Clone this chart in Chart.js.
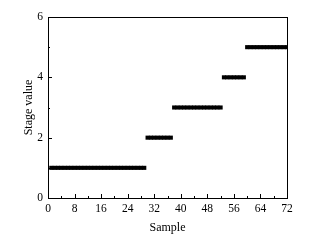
<!DOCTYPE html>
<html>
<head>
<meta charset="utf-8">
<script src="https://cdn.jsdelivr.net/npm/chart.js@4"></script>
<style>
  html, body { margin: 0; padding: 0; background: #fff; }
  #wrap { width: 324px; height: 244px; }
</style>
</head>
<body>
<div id="wrap"><canvas id="stageChart" width="324" height="244"></canvas></div>
<script>
// Dados
const samples = [1, 2, 3, 4, 5, 6, 7, 8, 9, 10, 11, 12, 13, 14, 15, 16, 17, 18, 19, 20,
    21, 22, 23, 24, 25, 26, 27, 28, 29, 30, 31, 32, 33, 34, 35, 36, 37, 38, 39, 40,
    41, 42, 43, 44, 45, 46, 47, 48, 49, 50, 51, 52, 53, 54, 55, 56, 57, 58, 59, 60,
    61, 62, 63, 64, 65, 66, 67, 68, 69, 70, 71, 72];
const stageValues = [1, 1, 1, 1, 1, 1, 1, 1, 1, 1, 1, 1, 1, 1, 1, 1, 1, 1, 1, 1,
    1, 1, 1, 1, 1, 1, 1, 1, 1, 2, 2, 2, 2, 2, 2, 2, 2, 3, 3, 3,
    3, 3, 3, 3, 3, 3, 3, 3, 3, 3, 3, 3, 4, 4, 4, 4, 4, 4, 4, 5,
    5, 5, 5, 5, 5, 5, 5, 5, 5, 5, 5, 5];
const xTicks = [0, 8, 16, 24, 32, 40, 48, 56, 64, 72];
const xMinorTicks = [4, 12, 20, 28, 36, 44, 52, 60, 68];
const yTicks = [0, 2, 4, 6];
const yMinorTicks = [1, 3, 5];

const points = samples.map((s, i) => ({ x: s, y: stageValues[i] }));

// Moldura e marcas internas
const framePlugin = {
    id: 'frame',
    afterDraw(chart) {
        const { ctx, chartArea: a, scales: { x, y } } = chart;
        ctx.save();
        ctx.strokeStyle = '#000';
        ctx.lineWidth = 1;
        ctx.strokeRect(a.left + 0.5, a.top + 0.5, a.right - a.left, a.bottom - a.top);
        ctx.beginPath();
        xTicks.forEach(v => {
            const px = Math.round(x.getPixelForValue(v)) + 0.5;
            ctx.moveTo(px, a.bottom); ctx.lineTo(px, a.bottom - 4);
        });
        xMinorTicks.forEach(v => {
            const px = Math.round(x.getPixelForValue(v)) + 0.5;
            ctx.moveTo(px, a.bottom); ctx.lineTo(px, a.bottom - 2);
        });
        yTicks.forEach(v => {
            const py = Math.round(y.getPixelForValue(v)) + 0.5;
            ctx.moveTo(a.left, py); ctx.lineTo(a.left + 4, py);
        });
        yMinorTicks.forEach(v => {
            const py = Math.round(y.getPixelForValue(v)) + 0.5;
            ctx.moveTo(a.left, py); ctx.lineTo(a.left + 2, py);
        });
        ctx.stroke();
        ctx.restore();
    }
};

const serif = 'Liberation Serif, Times New Roman, serif';

const stageChart = new Chart(document.getElementById('stageChart').getContext('2d'), {
    type: 'scatter',
    data: {
        datasets: [{
            label: 'Stage value',
            data: points,
            backgroundColor: '#000',
            borderColor: '#000',
            borderWidth: 0,
            pointStyle: 'rect',
            pointRadius: 2.9,
            clip: 0
        }]
    },
    options: {
        responsive: false,
        animation: false,
        layout: { padding: { top: 17, right: 37, left: 0, bottom: 0 } },
        plugins: { legend: { display: false }, tooltip: { enabled: false } },
        scales: {
            x: {
                type: 'linear',
                min: 0,
                max: 72,
                afterFit: s => { s.height = 46; },
                afterBuildTicks: s => { s.ticks = xTicks.map(v => ({ value: v })); },
                grid: { display: false, drawTicks: false },
                border: { display: false },
                ticks: { padding: 4, color: '#000', font: { family: serif, size: 11.5 }, maxRotation: 0 },
                title: { display: true, text: 'Sample', color: '#000', font: { family: serif, size: 12 }, padding: { top: 0, bottom: 9 } }
            },
            y: {
                type: 'linear',
                min: 0,
                max: 6,
                afterFit: s => { s.width = 48; },
                afterBuildTicks: s => { s.ticks = yTicks.map(v => ({ value: v })); },
                grid: { display: false, drawTicks: false },
                border: { display: false },
                ticks: { padding: 5, color: '#000', font: { family: serif, size: 11.5 } },
                title: { display: true, text: 'Stage value', color: '#000', font: { family: serif, size: 12 }, padding: { top: 22, bottom: 0 } }
            }
        }
    },
    plugins: [framePlugin]
});
</script>
</body>
</html>
